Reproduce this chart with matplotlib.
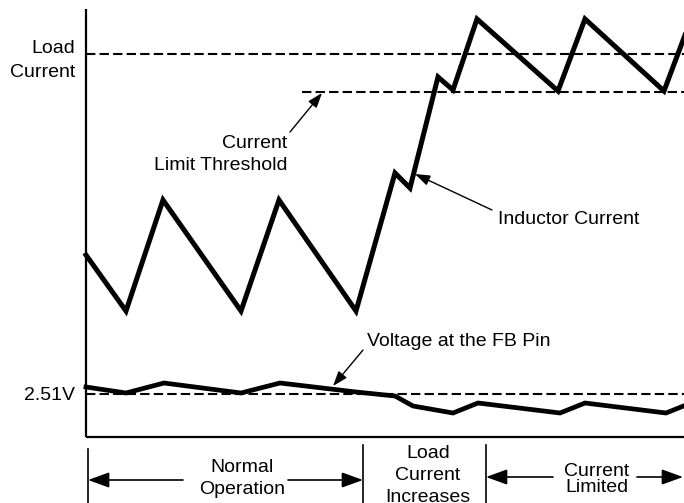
import matplotlib.pyplot as plt

plt.rcParams['font.family'] = ['Liberation Sans', 'DejaVu Sans']

# waveform data (time axis, signal level in drawing units; y grows downward)
ind_t = [86, 126, 163, 241, 279, 356, 395, 410, 438, 453, 477, 558, 585, 664, 691]
ind_y = [255, 311, 200, 311, 200, 311, 173, 188, 77, 90, 19, 91, 19, 91, 19]

fb_t = [86, 126, 164, 241, 280, 356, 395, 413, 453, 478, 560, 585, 666, 691]
fb_y = [387, 393, 383, 393, 383, 392, 396, 406, 413, 403, 413, 403, 413, 403]

load_level = 54
limit_level = 92
limit_start = 302
ref_level = 394

# region boundaries along the time axis
region_edges = [88, 363, 486]

fig = plt.figure(figsize=(6.84, 5.03), dpi=100)
ax = fig.add_axes([0, 0, 1, 1])
ax.set_xlim(0, 684)
ax.set_ylim(503, 0)
ax.axis('off')

# axes frame
ax.plot([86, 86], [9, 437], color='black', lw=1.6, solid_capstyle='butt')
ax.plot([86, 684], [437, 437], color='black', lw=1.6, solid_capstyle='butt')

# reference levels
dash = (0, (4.5, 2))
ax.plot([86, 684], [load_level, load_level], color='black', lw=1.5, linestyle=dash)
ax.plot([limit_start, 684], [limit_level, limit_level], color='black', lw=1.5, linestyle=dash)
ax.plot([86, 684], [ref_level, ref_level], color='black', lw=1.5, linestyle=dash)

# waveforms
ax.plot(ind_t, ind_y, color='black', lw=3.6, solid_joinstyle='miter')
ax.plot(fb_t, fb_y, color='black', lw=3.4, solid_joinstyle='miter')

fs = 14

# text labels
labels = [
    ("Load", 75, 48, 'right'),
    ("Current", 75, 72, 'right'),
    ("Current", 287, 143, 'right'),
    ("Limit Threshold", 287, 166, 'right'),
    ("Inductor Current", 498, 220, 'left'),
    ("Voltage at the FB Pin", 367, 342, 'left'),
    ("2.51V", 75, 396, 'right'),
    ("Normal", 242, 468, 'center'),
    ("Operation", 242, 490, 'center'),
    ("Load", 428, 453, 'center'),
    ("Current", 428, 475, 'center'),
    ("Increases", 428, 497, 'center'),
    ("Current", 597, 472, 'center'),
    ("Limited", 597, 488, 'center'),
]
for txt, x, y, ha in labels:
    ax.text(x, y, txt, fontsize=fs, ha=ha, va='center')

# pointer arrows
thin = dict(arrowstyle='-|>,head_length=0.9,head_width=0.32', color='black',
            lw=1.0, shrinkA=0, shrinkB=0)
ax.annotate('', xy=(322, 93), xytext=(290, 132), arrowprops=thin)
ax.annotate('', xy=(415, 174), xytext=(492, 210), arrowprops=thin)
ax.annotate('', xy=(333, 386), xytext=(363, 350), arrowprops=thin)

# region separators
ax.plot([region_edges[0]] * 2, [449, 503], color='black', lw=1.2)
ax.plot([region_edges[1]] * 2, [445, 503], color='black', lw=1.2)
ax.plot([region_edges[2]] * 2, [445, 503], color='black', lw=1.2)

big = dict(arrowstyle='-|>,head_length=1.3,head_width=0.47', color='black',
           lw=1.2, shrinkA=0, shrinkB=0)
ax.annotate('', xy=(88, 480), xytext=(183, 480), arrowprops=big)
ax.annotate('', xy=(363, 480), xytext=(288, 480), arrowprops=big)
ax.annotate('', xy=(486, 477), xytext=(553, 477), arrowprops=big)
ax.annotate('', xy=(683, 477), xytext=(637, 477), arrowprops=big)

fig.savefig('out.png', dpi=100)
